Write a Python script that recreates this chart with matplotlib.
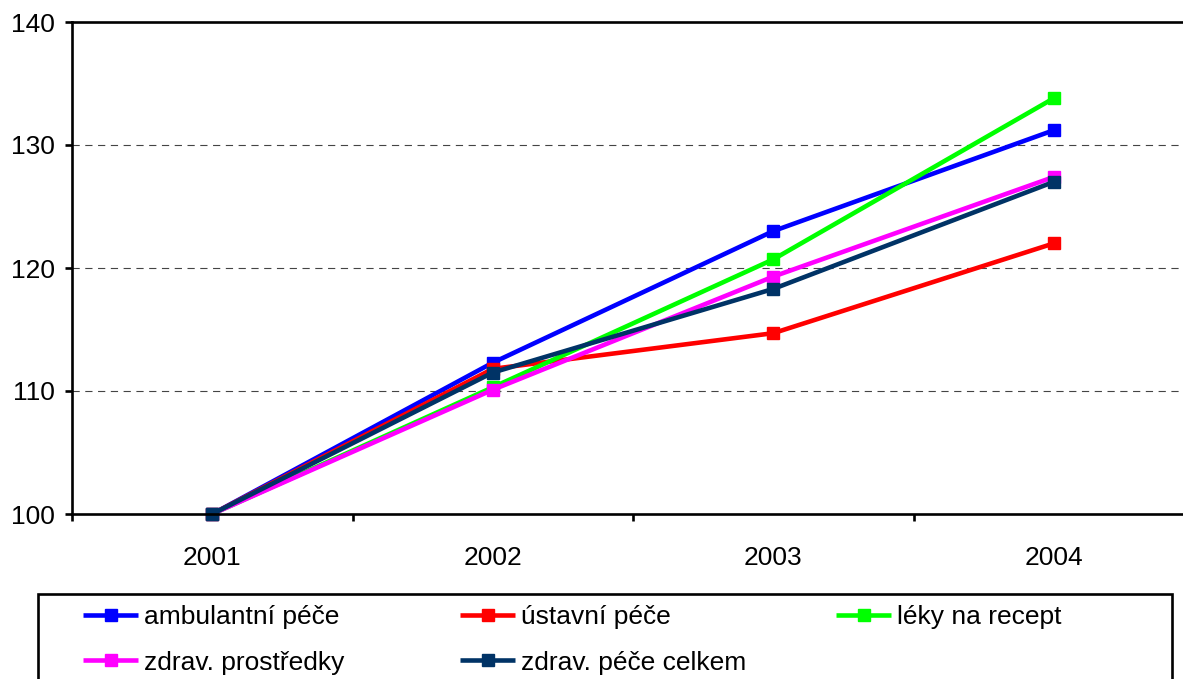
import numpy as np
import matplotlib as mpl
mpl.use('Agg')
from matplotlib import pyplot as plt
from matplotlib.patches import Rectangle

plt.rcParams['font.family'] = ['Liberation Sans', 'DejaVu Sans']

# data (index, 2001 = 100)
years = ['2001', '2002', '2003', '2004']
ambulantni = [100, 112.3, 123.0, 131.2]
ustavni = [100, 111.8, 114.7, 122.0]
leky = [100, 110.3, 120.7, 133.8]
prostredky = [100, 110.1, 119.3, 127.4]
celkem = [100, 111.5, 118.3, 127.0]

series = [
    ('ambulantní péče', ambulantni, '#0000FF'),
    ('ústavní péče', ustavni, '#FF0000'),
    ('léky na recept', leky, '#00FF00'),
    ('zdrav. prostředky', prostredky, '#FF00FF'),
    ('zdrav. péče celkem', celkem, '#003366'),
]

W, H = 1183, 679
fig = plt.figure(figsize=(W / 100, H / 100), dpi=100)
# axes run a bit past the right edge, like the original
ax = fig.add_axes([72 / W, 1 - 514 / H, (1194 - 72) / W, (514 - 22) / H])

x = np.arange(len(years))
lines = {}
for name, vals, col in series:
    ln, = ax.plot(x, vals, color=col, lw=3.3, marker='s', ms=8.5,
                  solid_capstyle='butt', clip_on=False)
    lines[name] = ln

ax.set_xlim(-0.5, len(years) - 0.5)
ax.set_ylim(100, 140)
ax.set_yticks(range(100, 141, 10))
ax.set_xticks(x)
ax.set_xticklabels(years)
ax.set_xticks(np.arange(-0.5, len(years), 1), minor=True)

for y in (110, 120, 130):
    ax.axhline(y, color='#444444', lw=0.8, dashes=(6.5, 5), zorder=0)

for sp in ax.spines.values():
    sp.set_linewidth(1.9)

ax.tick_params(axis='y', which='major', direction='out', length=5, width=1.9,
               labelsize=19, pad=7)
ax.tick_params(axis='x', which='major', length=0, labelsize=19, pad=23)
ax.tick_params(axis='x', which='minor', direction='out', length=5, width=1.9)

# legend frame, bottom edge cut off by the figure border
fig.patches.append(Rectangle((38 / W, -0.05), (1172 - 38) / W, 1 - 594 / H + 0.05,
                             transform=fig.transFigure, fill=False,
                             edgecolor='black', lw=1.9))

cols = [
    (83, ['ambulantní péče', 'zdrav. prostředky']),
    (460, ['ústavní péče', 'zdrav. péče celkem']),
    (836, ['léky na recept']),
]
for xpos, names in cols:
    leg = fig.legend([lines[n] for n in names], names, loc='upper left',
                     bbox_to_anchor=(xpos / W, 1 - 605 / H), frameon=False,
                     fontsize=19, handlelength=2.1, handletextpad=0.2,
                     labelspacing=0.82, borderpad=0, borderaxespad=0,
                     markerscale=1.0)
    for h in leg.legend_handles:
        h.set_linewidth(3.3)

fig.savefig('out.png', dpi=100)
